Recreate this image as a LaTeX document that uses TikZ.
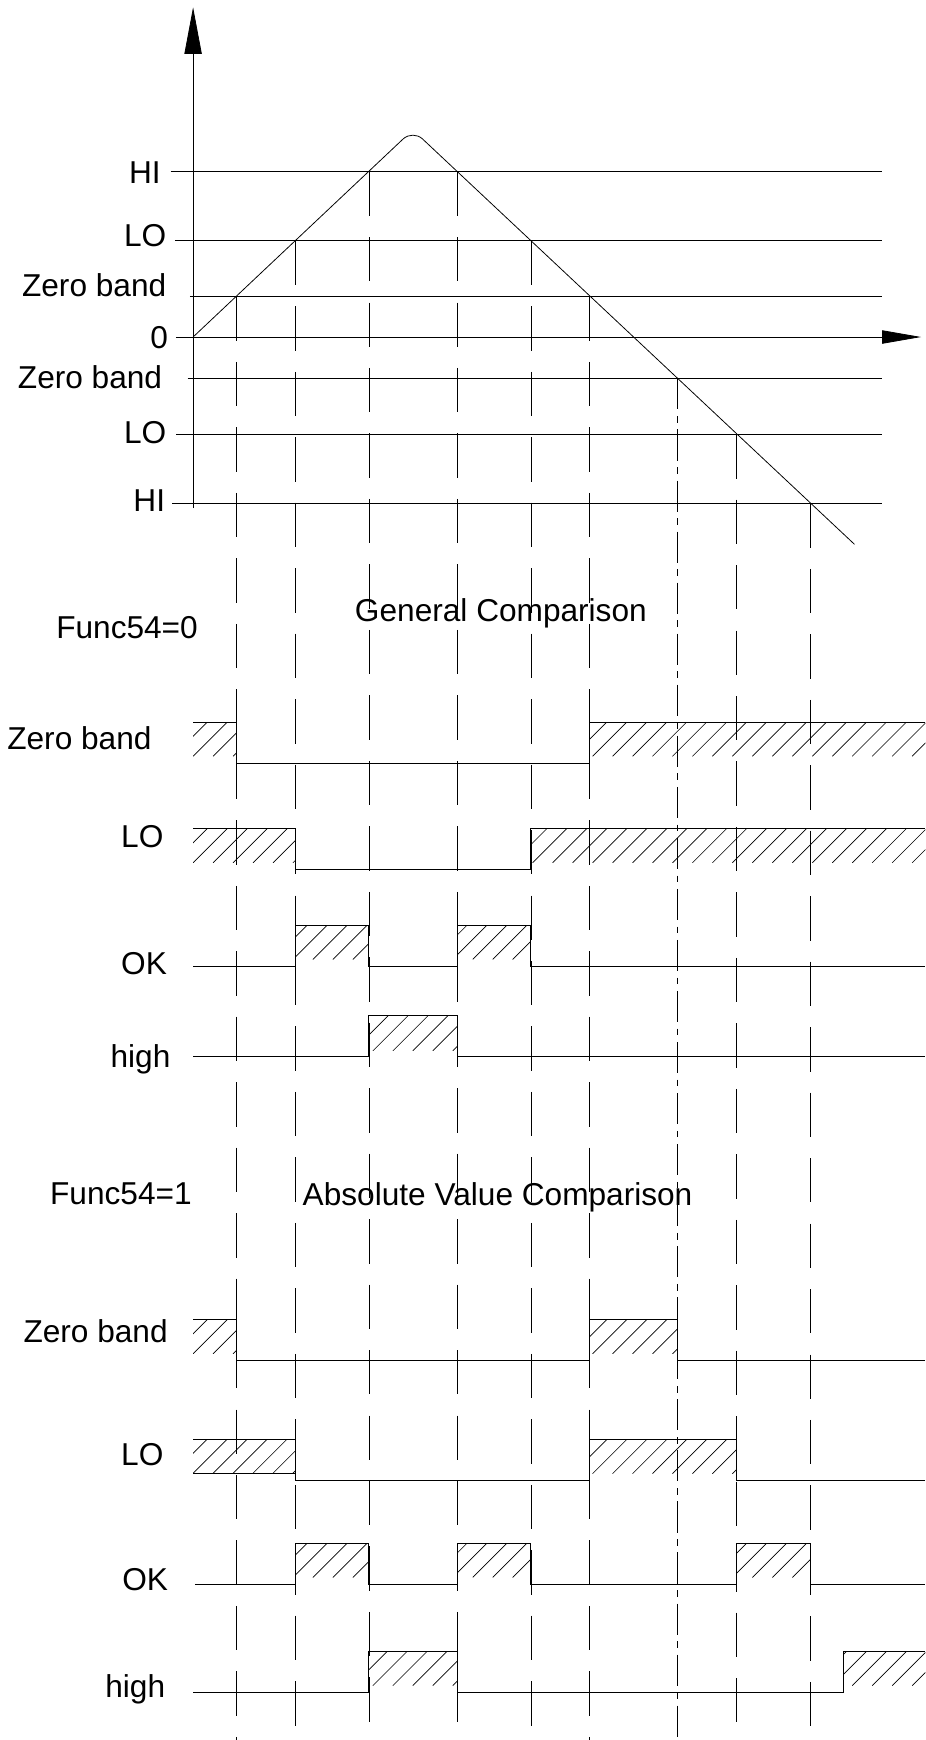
\documentclass[tikz,border=0pt]{standalone}
\usepackage{fontspec}
\setmainfont{Liberation Sans}
\usetikzlibrary{arrows.meta}

% rayado de un tramo activo: x1, x2, y arriba, y abajo
\newcommand{\rayado}[4]{%
  \begin{scope}
    \clip (#1,#3) rectangle (#2,#4);
    \foreach \hx in {120,138,...,850}
      \draw[rayas] (\hx,#4) -- ++(45,-45);
  \end{scope}}

\begin{document}
\begin{tikzpicture}[x=1pt, y=-1pt,
  nivel/.style={line width=0.7pt},
  guia/.style={line width=0.7pt, dash pattern=on 40pt off 19pt},
  senal/.style={line width=0.9pt},
  rayas/.style={line width=0.6pt},
  etiqueta/.style={font=\fontsize{28.5}{34}\selectfont, inner sep=0pt}]
\useasboundingbox (0,0) rectangle (834,1568);
% Ejes
\draw[nivel, -{Triangle[length=42pt,width=15.6pt]}] (174,458) -- (174,6.6);
\draw[nivel, -{Triangle[length=35pt,width=12pt]}] (158.5,303.7) -- (830,303.7);
% Niveles de comparacion
\draw[nivel] (153.7,154.6) -- (795,154.6);
\draw[nivel] (157.6,217) -- (795,217);
\draw[nivel] (171,267.2) -- (795,267.2);
\draw[nivel] (169,341) -- (795,341);
\draw[nivel] (159,391.2) -- (795,391.2);
\draw[nivel] (155,453.6) -- (795,453.6);
\node[etiqueta, anchor=base east] (hiSup) at (145,165) {HI};
\node[etiqueta, anchor=base east] (loSup) at (150,222) {LO};
\node[etiqueta, anchor=base east] (zbSup) at (150,267) {Zero band};
\node[etiqueta, anchor=base east] (cero) at (151.6,314) {0};
\node[etiqueta, anchor=base east] (zbInf) at (146.3,350) {Zero band};
\node[etiqueta, anchor=base east] (loInf) at (150,400) {LO};
\node[etiqueta, anchor=base east] (hiInf) at (149,461) {HI};
% Rampa
\draw[nivel, rounded corners=12pt] (174,303.7) -- (372,117) -- (770,490.5);
% Guias verticales desde cada cruce
\foreach \gx/\gy in {213/267.2, 266.5/217, 332.5/154.6, 412/154.6, 478.5/217,
                     531/267.2, 664/391.2, 730/453.6}
  \draw[guia] (\gx,\gy) -- (\gx,1568);
\draw[guia, dash pattern=on 28pt off 6pt on 6pt off 6pt] (610.5,341) -- (610.5,1568);

% Func54=0: comparacion general
\node[etiqueta, anchor=base west] (func0) at (50.5,575.5) {Func54=0};
\node[etiqueta, anchor=base west] (general) at (319.7,560) {General Comparison};
\node[etiqueta, anchor=base west] (zbGen) at (6.4,675.2) {Zero band};
\node[etiqueta, anchor=base west] (loGen) at (109,763.7) {LO};
\node[etiqueta, anchor=base west] (okGen) at (109,877.9) {OK};
\node[etiqueta, anchor=base west] (highGen) at (99.5,962) {high};
\draw[senal] (174,650.7) -- (213,650.7) -- (213,688) -- (531,688) -- (531,650.7) -- (834,650.7);
\rayado{174}{213}{650.7}{681.5}
\rayado{531}{834}{650.7}{681.5}
\draw[senal] (174,746.6) -- (266.5,746.6) -- (266.5,783.7) -- (478.5,783.7) -- (478.5,746.6) -- (834,746.6);
\rayado{174}{266.5}{746.6}{777.5}
\rayado{478.5}{834}{746.6}{777.5}
\draw[senal] (174,870.9) -- (266.5,870.9) -- (266.5,833.7) -- (332.5,833.7) -- (332.5,870.9)
  -- (412,870.9) -- (412,833.7) -- (478.5,833.7) -- (478.5,870.9) -- (834,870.9);
\rayado{266.5}{332.5}{833.7}{864.6}
\rayado{412}{478.5}{833.7}{864.6}
\draw[senal] (174,952.3) -- (332.5,952.3) -- (332.5,915.3) -- (412,915.3) -- (412,952.3) -- (834,952.3);
\rayado{332.5}{412}{915.3}{947}

% Func54=1: comparacion de valor absoluto
\node[etiqueta, anchor=base west] (func1) at (45,1085.6) {Func54=1};
\node[etiqueta, anchor=base west] (absoluto) at (272.6,1086) {Absolute Value Comparison};
\node[etiqueta, anchor=base west] (zbAbs) at (21,1209.5) {Zero band};
\node[etiqueta, anchor=base west] (loAbs) at (109,1320.5) {LO};
\node[etiqueta, anchor=base west] (okAbs) at (110,1433) {OK};
\node[etiqueta, anchor=base west] (highAbs) at (94.7,1530) {high};
\draw[senal] (174,1189) -- (213,1189) -- (213,1226) -- (531,1226) -- (531,1189) -- (610.5,1189)
  -- (610.5,1226) -- (834,1226);
\rayado{174}{213}{1189}{1220}
\rayado{531}{610.5}{1189}{1220}
\draw[senal] (174,1297) -- (266.5,1297) -- (266.5,1334.2) -- (531,1334.2) -- (531,1297) -- (664,1297)
  -- (664,1334.2) -- (834,1334.2);
\draw[senal] (174,1327.6) -- (266.5,1327.6);
\rayado{174}{266.5}{1297}{1327.6}
\rayado{531}{664}{1297}{1328}
\draw[senal] (175.5,1427.8) -- (266.5,1427.8) -- (266.5,1390.6) -- (332.5,1390.6) -- (332.5,1427.8)
  -- (412,1427.8) -- (412,1390.6) -- (478.5,1390.6) -- (478.5,1427.8) -- (664,1427.8)
  -- (664,1390.6) -- (730,1390.6) -- (730,1427.8) -- (834,1427.8);
\rayado{266.5}{332.5}{1390.6}{1421.5}
\rayado{412}{478.5}{1390.6}{1421.5}
\rayado{664}{730}{1390.6}{1421.5}
\draw[senal] (174,1525) -- (332.5,1525) -- (332.5,1488) -- (412,1488) -- (412,1525) -- (760.5,1525)
  -- (760.5,1488) -- (834,1488);
\rayado{332.5}{412}{1488}{1519}
\rayado{760.5}{834}{1488}{1519}
\end{tikzpicture}
\end{document}
